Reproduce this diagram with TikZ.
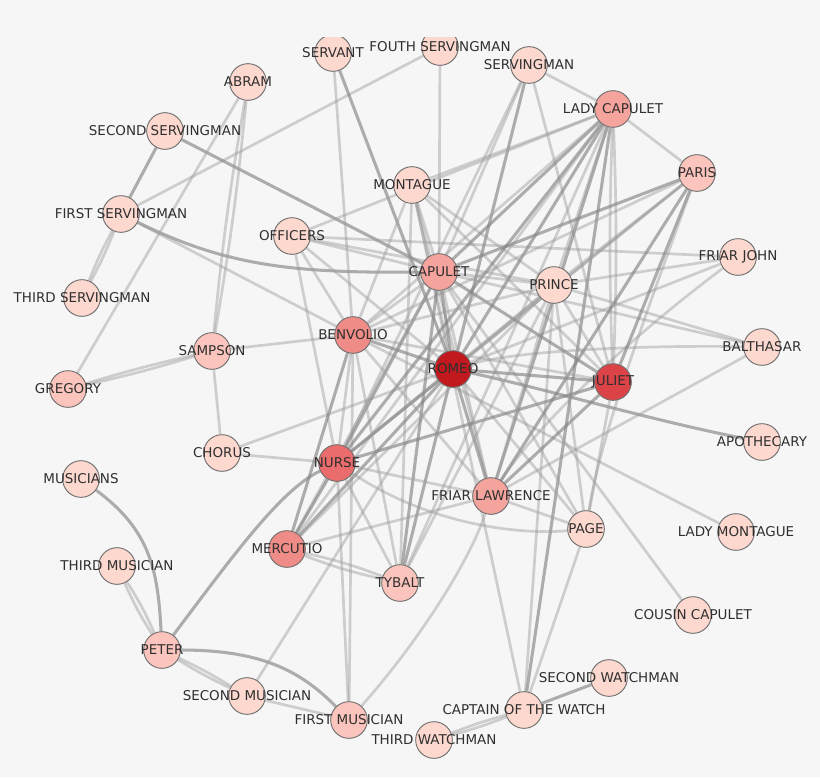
\documentclass[tikz,border=0pt]{standalone}
\usepackage{fontspec}
\setmainfont{DejaVu Sans}
\pgfdeclarelayer{background}
\pgfdeclarelayer{edges}
\pgfsetlayers{background,edges,main}
\definecolor{bgcol}{HTML}{F6F6F6}
\definecolor{pale}{HTML}{FDD8CF}
\definecolor{blush}{HTML}{FBC4BC}
\definecolor{rose}{HTML}{F5A39D}
\definecolor{coral}{HTML}{F08C87}
\definecolor{salmon}{HTML}{EA6C6C}
\definecolor{crimson}{HTML}{DC4347}
\definecolor{blood}{HTML}{C2191E}
\definecolor{rim}{HTML}{707070}
\definecolor{ink}{HTML}{2F2F2F}
\definecolor{edgecol}{HTML}{9C9C9C}
\definecolor{edgedark}{HTML}{858585}

\begin{document}
\begin{tikzpicture}[
  x=0.03cm, y=-0.03cm,
  actor/.style={circle, draw=rim, line width=0.8pt, minimum size=1.1cm, inner sep=0pt},
  tag/.style={font=\fontsize{11.5}{13}\selectfont, text=ink, inner sep=0pt},
  link/.style={draw=edgecol, line width=2.3pt, draw opacity=0.45},
  strong/.style={draw=edgedark, line width=2.6pt, draw opacity=0.65}
]
\begin{pgfonlayer}{background}
  \fill[bgcol] (0,0) rectangle (820,777);
\end{pgfonlayer}
\useasboundingbox (0,0) rectangle (820,777);

% Top row (cut by the frame)
\begin{scope}
  \clip (0,37) rectangle (820,777);
  \node[actor, fill=pale, label={[tag]center:SERVANT}] (servant) at (333,53) {};
  \node[actor, fill=pale, label={[tag]center:FOUTH SERVINGMAN}] (fouth) at (440,47) {};
\end{scope}
\node[actor, fill=pale, label={[tag]center:SERVINGMAN}] (servingman) at (529,65) {};
\node[actor, fill=pale, label={[tag]center:ABRAM}] (abram) at (248,82) {};
\node[actor, fill=rose, label={[tag]center:LADY CAPULET}] (ladycap) at (613,109) {};
\node[actor, fill=pale, label={[tag]center:SECOND SERVINGMAN}] (secserv) at (165,131) {};
\node[actor, fill=blush, label={[tag]center:PARIS}] (paris) at (697,173) {};
\node[actor, fill=pale, label={[tag]center:MONTAGUE}] (montague) at (412,185) {};
\node[actor, fill=pale, label={[tag]center:FIRST SERVINGMAN}] (firstserv) at (121,214) {};
\node[actor, fill=pale, label={[tag]center:OFFICERS}] (officers) at (292,236) {};
\node[actor, fill=pale, label={[tag]center:FRIAR JOHN}] (friarjohn) at (738,257) {};

% Middle band
\node[actor, fill=rose, label={[tag]center:CAPULET}] (capulet) at (439,272) {};
\node[actor, fill=pale, label={[tag]center:PRINCE}] (prince) at (554,285) {};
\node[actor, fill=pale, label={[tag]center:THIRD SERVINGMAN}] (thirdserv) at (82,298) {};
\node[actor, fill=coral, label={[tag]center:BENVOLIO}] (benvolio) at (353,335) {};
\node[actor, fill=blush, label={[tag]center:SAMPSON}] (sampson) at (212,351) {};
\node[actor, fill=pale, label={[tag]center:BALTHASAR}] (balthasar) at (762,347) {};
\node[actor, fill=blood, label={[tag]center:ROMEO}] (romeo) at (453,369) {};
\node[actor, fill=crimson, label={[tag]center:JULIET}] (juliet) at (613,382) {};
\node[actor, fill=blush, label={[tag]center:GREGORY}] (gregory) at (68,389) {};
\node[actor, fill=pale, label={[tag]center:CHORUS}] (chorus) at (222,453) {};
\node[actor, fill=pale, label={[tag]center:APOTHECARY}] (apothecary) at (762,442) {};
\node[actor, fill=salmon, label={[tag]center:NURSE}] (nurse) at (337,463) {};
\node[actor, fill=pale, label={[tag]center:MUSICIANS}] (musicians) at (81,479) {};
\node[actor, fill=rose, label={[tag]center:FRIAR LAWRENCE}] (friar) at (491,496) {};
\node[actor, fill=pale, label={[tag]center:PAGE}] (page) at (586,529) {};
\node[actor, fill=pale, label={[tag]center:LADY MONTAGUE}] (ladymon) at (736,532) {};
\node[actor, fill=coral, label={[tag]center:MERCUTIO}] (mercutio) at (287,549) {};

% Bottom band
\node[actor, fill=pale, label={[tag]center:THIRD MUSICIAN}] (thirdmus) at (117,566) {};
\node[actor, fill=blush, label={[tag]center:TYBALT}] (tybalt) at (400,583) {};
\node[actor, fill=pale, label={[tag]center:COUSIN CAPULET}] (cousin) at (693,615) {};
\node[actor, fill=blush, label={[tag]center:PETER}] (peter) at (162,650) {};
\node[actor, fill=pale, label={[tag]center:SECOND WATCHMAN}] (secwatch) at (609,678) {};
\node[actor, fill=pale, label={[tag]center:SECOND MUSICIAN}] (secmus) at (247,696) {};
\node[actor, fill=pale, label={[tag]center:CAPTAIN OF THE WATCH}] (captain) at (524,710) {};
\node[actor, fill=blush, label={[tag]center:FIRST MUSICIAN}] (firstmus) at (349,720) {};
\node[actor, fill=pale, label={[tag]center:THIRD WATCHMAN}] (thirdwatch) at (434,740) {};

\begin{pgfonlayer}{edges}
% Servants on the left
\draw[strong] (firstserv) -- (secserv);
\draw[link] (firstserv) -- (fouth);
\draw[link] (firstserv) to[bend left=3] (thirdserv);
\draw[link] (firstserv) to[bend right=3] (thirdserv);
\draw[strong] (firstserv) .. controls (230,268) and (300,273) .. (capulet);
\draw[link] (firstserv) -- (benvolio);
\draw[strong] (secserv) -- (capulet);
\draw[link] (abram) -- (gregory);
\draw[link] (abram) to[bend left=2] (sampson);
\draw[link] (abram) to[bend right=2] (sampson);
\draw[link] (gregory) to[bend left=2] (sampson);
\draw[link] (gregory) to[bend right=2] (sampson);
\draw[link] (sampson) -- (benvolio);
\draw[link] (sampson) -- (chorus);
\draw[link] (chorus) -- (nurse);
\draw[link] (chorus) -- (romeo);

% Musicians
\draw[strong] (musicians) .. controls (150,530) and (158,570) .. (peter);
\draw[link] (thirdmus) to[bend left=4] (peter);
\draw[link] (thirdmus) to[bend right=4] (peter);
\draw[link] (peter) to[bend left=3] (secmus);
\draw[link] (peter) to[bend right=3] (secmus);
\draw[strong] (peter) .. controls (260,650) and (300,670) .. (firstmus);
\draw[strong] (peter) .. controls (230,560) and (280,490) .. (nurse);
\draw[link] (secmus) -- (firstmus);
\draw[link] (secmus) -- (romeo);
\draw[link] (firstmus) -- (nurse);
\draw[link] (firstmus) -- (benvolio);
\draw[link] (firstmus) .. controls (420,640) and (470,560) .. (friar);

% The watch
\draw[link] (captain) to[bend left=3] (thirdwatch);
\draw[link] (captain) to[bend right=3] (thirdwatch);
\draw[strong] (captain) -- (secwatch);
\draw[link] (captain) -- (page);
\draw[link] (captain) -- (prince);
\draw[strong] (captain) -- (ladycap);
\draw[link] (captain) -- (montague);

% Side characters
\draw[link] (cousin) -- (capulet);
\draw[link] (ladymon) -- (benvolio);
\draw[strong] (apothecary) .. controls (650,420) and (550,390) .. (romeo);
\draw[link] (balthasar) .. controls (650,345) and (520,350) .. (romeo);
\draw[link] (balthasar) -- (prince);
\draw[link] (balthasar) -- (friar);
\draw[link] (balthasar) -- (capulet);
\draw[link] (friarjohn) -- (prince);
\draw[link] (friarjohn) -- (officers);
\draw[link] (friarjohn) .. controls (640,330) and (540,420) .. (friar);
\draw[link] (friarjohn) -- (romeo);

% Top of the house
\draw[link] (servant) -- (benvolio);
\draw[strong] (servant) -- (romeo);
\draw[link] (fouth) -- (capulet);
\draw[link] (servingman) -- (ladycap);
\draw[link] (servingman) -- (capulet);
\draw[strong] (servingman) -- (romeo);
\draw[link] (servingman) -- (juliet);
\draw[link] (servingman) -- (nurse);
\draw[link] (montague) -- (ladycap);
\draw[link] (montague) -- (capulet);
\draw[link] (montague) -- (romeo);
\draw[link] (montague) -- (benvolio);
\draw[link] (montague) -- (prince);
\draw[link] (montague) -- (friar);
\draw[link] (montague) -- (juliet);
\draw[link] (montague) -- (tybalt);
\draw[link] (officers) -- (benvolio);
\draw[link] (officers) -- (capulet);
\draw[link] (officers) -- (romeo);
\draw[link] (officers) -- (prince);
\draw[link] (officers) -- (nurse);

% Lady Capulet and Paris
\draw[link] (ladycap) to[bend left=2] (juliet);
\draw[link] (ladycap) to[bend right=2] (juliet);
\draw[link] (ladycap) -- (paris);
\draw[strong] (ladycap) -- (capulet);
\draw[strong] (ladycap) -- (romeo);
\draw[link] (ladycap) -- (benvolio);
\draw[strong] (ladycap) -- (nurse);
\draw[link] (ladycap) -- (tybalt);
\draw[strong] (ladycap) -- (friar);
\draw[link] (ladycap) -- (mercutio);
\draw[link] (ladycap) -- (prince);
\draw[link] (ladycap) -- (officers);
\draw[strong] (paris) -- (capulet);
\draw[link] (paris) -- (benvolio);
\draw[link] (paris) -- (romeo);
\draw[strong] (paris) -- (juliet);
\draw[strong] (paris) -- (friar);
\draw[link] (paris) -- (nurse);
\draw[link] (paris) -- (prince);
\draw[link] (paris) .. controls (640,330) and (600,440) .. (page);

% Centre
\draw[strong] (romeo) -- (benvolio);
\draw[strong] (romeo) -- (mercutio);
\draw[strong] (romeo) -- (juliet);
\draw[strong] (romeo) -- (nurse);
\draw[strong] (romeo) -- (friar);
\draw[strong] (romeo) -- (capulet);
\draw[strong] (romeo) -- (tybalt);
\draw[link] (romeo) -- (prince);
\draw[link] (romeo) -- (page);
\draw[strong] (juliet) -- (nurse);
\draw[strong] (juliet) -- (capulet);
\draw[strong] (juliet) -- (friar);
\draw[link] (juliet) -- (prince);
\draw[link] (juliet) -- (page);
\draw[link] (juliet) -- (benvolio);
\draw[strong] (capulet) -- (nurse);
\draw[strong] (capulet) -- (tybalt);
\draw[link] (capulet) -- (benvolio);
\draw[link] (capulet) -- (prince);
\draw[link] (capulet) -- (friar);
\draw[link] (capulet) -- (mercutio);
\draw[link] (capulet) -- (page);
\draw[link] (nurse) -- (benvolio);
\draw[strong] (nurse) -- (mercutio);
\draw[link] (nurse) -- (friar);
\draw[link] (nurse) -- (tybalt);
\draw[link] (nurse) -- (prince);
\draw[link] (nurse) .. controls (430,525) and (520,535) .. (page);
\draw[strong] (benvolio) -- (mercutio);
\draw[link] (benvolio) -- (tybalt);
\draw[link] (benvolio) -- (prince);
\draw[link] (benvolio) -- (friar);
\draw[link] (mercutio) to[bend left=4] (tybalt);
\draw[link] (mercutio) to[bend right=4] (tybalt);
\draw[link] (mercutio) -- (prince);
\draw[link] (mercutio) -- (friar);
\draw[link] (friar) -- (page);
\draw[link] (friar) -- (prince);
\draw[link] (prince) -- (tybalt);
\draw[link] (prince) -- (page);
\end{pgfonlayer}

\end{tikzpicture}
\end{document}
